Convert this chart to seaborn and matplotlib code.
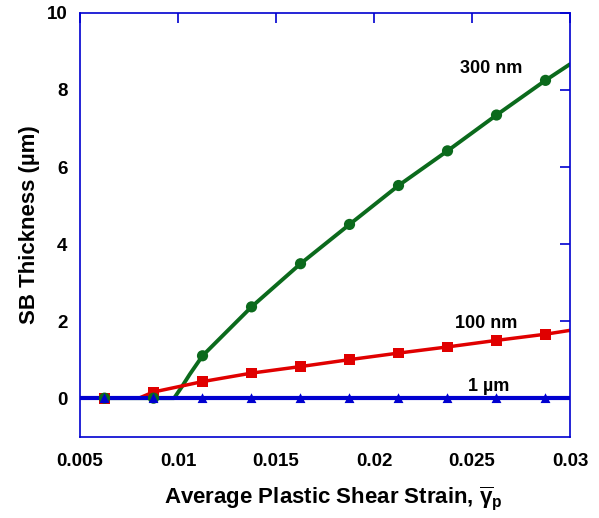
import matplotlib
matplotlib.use("Agg")
import matplotlib.pyplot as plt
import seaborn as sns

# marker positions (strain) shared by all three series
marker_strain = [0.00625, 0.00875, 0.01125, 0.01375, 0.01625, 0.01875,
                 0.02125, 0.02375, 0.02625, 0.02875]
thick_300nm = [0.0, 0.0, 1.10, 2.37, 3.49, 4.51, 5.52, 6.42, 7.35, 8.25]
thick_100nm = [0.0, 0.16, 0.43, 0.65, 0.82, 1.00, 1.17, 1.33, 1.50, 1.66]
thick_1um = [0.0] * len(marker_strain)

# smooth curve points
line300_strain = [0.00625, 0.0098, 0.0102, 0.0106, 0.01125, 0.01375, 0.01625,
                  0.01875, 0.02125, 0.02375, 0.02625, 0.02875, 0.030]
line300_thick = [0.0, 0.0, 0.30, 0.62, 1.10, 2.37, 3.49, 4.51, 5.52, 6.42,
                 7.35, 8.25, 8.67]
line100_strain = [0.00625, 0.0080, 0.00875, 0.01125, 0.01375, 0.01625, 0.01875,
                  0.02125, 0.02375, 0.02625, 0.02875, 0.030]
line100_thick = [0.0, 0.0, 0.16, 0.43, 0.65, 0.82, 1.00, 1.17, 1.33, 1.50,
                 1.66, 1.76]
line1um_strain = [0.005, 0.030]
line1um_thick = [0.0, 0.0]

labels = ["300 nm", "100 nm", "1 \u00b5m"]
label_pos = [(0.02755, 8.55), (0.0273, 1.95), (0.0269, 0.31)]

GREEN = "#0b6a1c"
RED = "#e00000"
BLUE = "#0000d0"

sns.set_style("white")
plt.rcParams["font.family"] = ["Liberation Sans", "DejaVu Sans"]
plt.rcParams["font.weight"] = "bold"
plt.rcParams["text.color"] = "black"
plt.rcParams["axes.labelcolor"] = "black"
plt.rcParams["mathtext.fontset"] = "custom"
plt.rcParams["mathtext.bf"] = "Liberation Sans:bold"
plt.rcParams["mathtext.rm"] = "Liberation Sans:bold"
plt.rcParams["mathtext.it"] = "Liberation Sans:bold"

fig = plt.figure(figsize=(5.99, 5.18), dpi=100)
ax = fig.add_axes([0.1336, 0.157, 0.818, 0.818])

sns.lineplot(x=line300_strain, y=line300_thick, color=GREEN, lw=2.8, ax=ax)
sns.lineplot(x=line100_strain, y=line100_thick, color=RED, lw=2.5, ax=ax)
sns.lineplot(x=line1um_strain, y=line1um_thick, color=BLUE, lw=3, ax=ax)

sns.scatterplot(x=marker_strain, y=thick_100nm, marker="s", color=RED, s=60,
                edgecolor="none", ax=ax, zorder=4)
sns.scatterplot(x=marker_strain, y=thick_300nm, marker="o", color=GREEN, s=65,
                edgecolor="none", ax=ax, zorder=5)
sns.scatterplot(x=marker_strain, y=thick_1um, marker="^", color=BLUE, s=50,
                edgecolor="none", ax=ax, zorder=6)

for txt, (x, y) in zip(labels, label_pos):
    ax.text(x, y, txt, ha="right", va="center", fontsize=13, fontweight="bold")

ax.set_xlim(0.005, 0.030)
ax.set_ylim(-1, 10)
ax.set_xticks([0.005, 0.01, 0.015, 0.02, 0.025, 0.03])
ax.set_xticklabels(["0.005", "0.01", "0.015", "0.02", "0.025", "0.03"])
ax.set_yticks([0, 2, 4, 6, 8, 10])

for sp in ax.spines.values():
    sp.set_visible(True)
    sp.set_color(BLUE)
    sp.set_linewidth(1.2)
ax.tick_params(direction="in", length=7, width=1.2, color=BLUE,
               top=True, right=True, labelsize=13.5, labelcolor="black")
ax.tick_params(axis="x", pad=12)
ax.tick_params(axis="y", pad=9)
for lab in ax.get_xticklabels() + ax.get_yticklabels():
    lab.set_fontweight("bold")

ax.set_xlabel(r"Average Plastic Shear Strain, $\mathbf{\overline{\gamma}_p}$",
              fontsize=16, fontweight="bold", labelpad=10)
ax.xaxis.label.set_x(0.518)
ax.set_ylabel("SB Thickness (\u00b5m)", fontsize=16, fontweight="bold",
              labelpad=5)

fig.savefig("out.png", dpi=100)
